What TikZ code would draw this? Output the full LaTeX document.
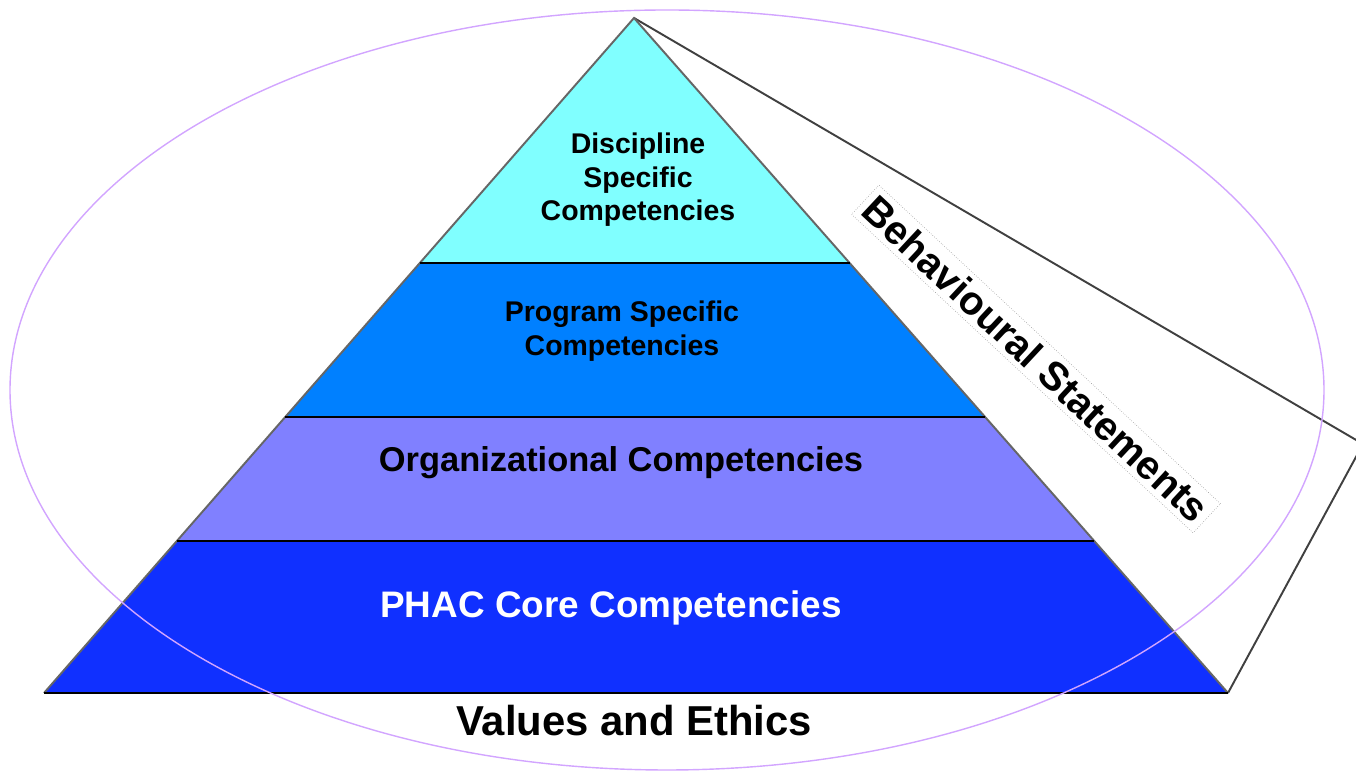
\documentclass[tikz,border=0pt]{standalone}
\usepackage{fontspec}
\setmainfont{Liberation Sans}
\usetikzlibrary{calc, positioning}

\definecolor{disciplinecyan}{RGB}{128,255,255}
\definecolor{programblue}{RGB}{0,128,255}
\definecolor{orglavender}{RGB}{128,128,255}
\definecolor{coreblue}{RGB}{16,48,255}
\definecolor{ethicsviolet}{RGB}{210,165,255}

\begin{document}
\begin{tikzpicture}[
    tierlabel/.style={text centered, font=\bfseries\fontsize{16.2}{19}\selectfont, align=center},
    tierline/.style={draw=black, line width=1.1pt},
    sideline/.style={draw=black!60, line width=1.1pt}
    ]
    \useasboundingbox (0,0) rectangle (27.12,15.42);

    		% Pyramid corners
    		\coordinate (Apex) at (12.68,15.06);
    		\coordinate (BaseLeft) at (0.88,1.56);
    		\coordinate (BaseRight) at (24.56,1.56);
    		\coordinate (PanelCorner) at (27.26,6.54);

    		% Tier corners along the sides
    		\coordinate (DL) at ($(Apex)!0.363!(BaseLeft)$);
    		\coordinate (DR) at ($(Apex)!0.363!(BaseRight)$);
    		\coordinate (PL) at ($(Apex)!0.591!(BaseLeft)$);
    		\coordinate (PR) at ($(Apex)!0.591!(BaseRight)$);
    		\coordinate (OL) at ($(Apex)!0.775!(BaseLeft)$);
    		\coordinate (OR) at ($(Apex)!0.775!(BaseRight)$);

    		% Behavioural statements panel
    		\draw[draw=black!75, line width=1.1pt, fill=white] (Apex) -- (PanelCorner) -- (BaseRight);

    		% Tiers
    		\fill[disciplinecyan] (Apex) -- (DR) -- (DL) -- cycle;
    		\fill[programblue] (DL) -- (DR) -- (PR) -- (PL) -- cycle;
    		\fill[orglavender] (PL) -- (PR) -- (OR) -- (OL) -- cycle;
    		\fill[coreblue] (OL) -- (OR) -- (BaseRight) -- (BaseLeft) -- cycle;

    		\draw[sideline] (BaseLeft) -- (Apex) -- (BaseRight);
    		\draw[tierline] (DL) -- (DR);
    		\draw[tierline] (PL) -- (PR);
    		\draw[tierline] (OL) -- (OR);
    		\draw[tierline] (BaseLeft) -- (BaseRight);

    		% Tier labels
    		\node (Discipline) at (12.76,11.82) [tierlabel]{Discipline\\Specific\\Competencies};
    		\node (Program) at (12.44,8.80) [tierlabel]{Program Specific\\Competencies};
    		\node (Organizational) at (12.42,6.16) [tierlabel, font=\bfseries\fontsize{19.6}{23}\selectfont]{Organizational Competencies};
    		\node (Core) at (12.22,3.26) [tierlabel, text=white, font=\bfseries\fontsize{21}{25}\selectfont]{PHAC Core Competencies};

    		\node (Values) at (12.68,1.00) [text centered, font=\bfseries\fontsize{23.8}{28}\selectfont]{Values and Ethics};

    		\node (Behavioural) at (20.72,8.24) [rotate=-43, fill=white, draw=black!50, densely dotted, line width=0.3pt, inner sep=3pt, font=\bfseries\fontsize{22.8}{26}\selectfont]{Behavioural Statements};

    		% Values and ethics ring
    		\draw[ethicsviolet, line width=0.8pt] (13.34,7.62) ellipse (13.14cm and 7.6cm);

\end{tikzpicture}
\end{document}
